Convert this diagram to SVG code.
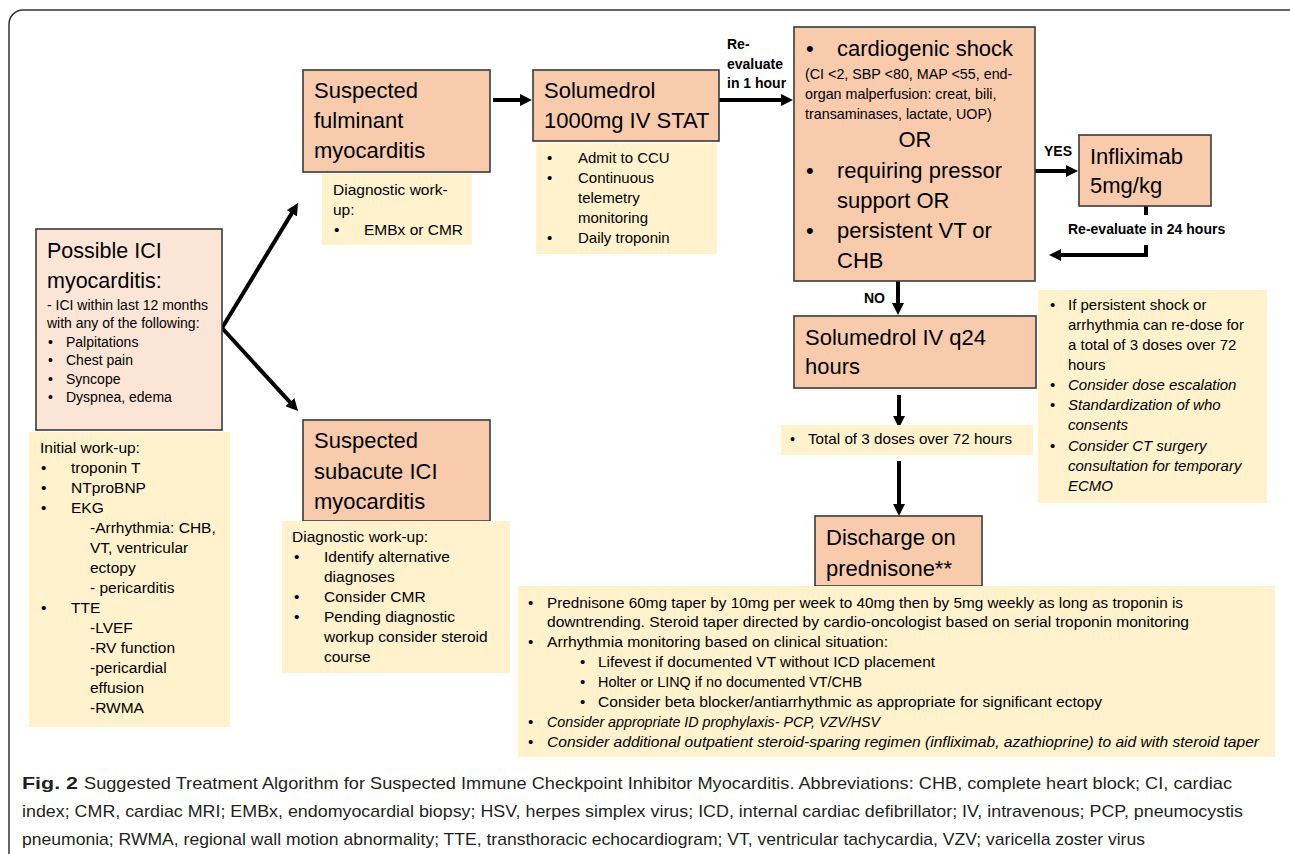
<svg xmlns="http://www.w3.org/2000/svg" width="1290" height="854" viewBox="0 0 1290 854">
<defs>
<style>
text{font-family:"Liberation Sans",Arial,sans-serif;fill:#000}
.big{font-size:22px}
.sm{font-size:15px}
.md{font-size:15.5px}
.b{font-weight:bold;font-size:14px}
.it{font-style:italic}
.box{fill:#f8cbad;stroke:#3a3a3a;stroke-width:1.6}
.box0{fill:#fbe5d6;stroke:#3a3a3a;stroke-width:1.6}
.note{fill:#fff2cc}
.conn{stroke:#000;stroke-width:4;fill:none}
.cap{font-size:17px;fill:#231f20}
</style>
<marker id="ah" viewBox="0 0 12 12" markerUnits="userSpaceOnUse" markerWidth="12" markerHeight="12" refX="1" refY="6" orient="auto">
<path d="M0,0 L12,6 L0,12 z" fill="#000"/>
</marker>
</defs>
<rect width="1290" height="854" fill="#fff"/>
<rect x="9" y="10" width="1300" height="870" rx="14" fill="none" stroke="#333" stroke-width="1.5"/>

<g id="connectors">
<line class="conn" x1="222" y1="328" x2="292.3" y2="212.4" marker-end="url(#ah)"/>
<line class="conn" x1="222" y1="328" x2="290.6" y2="402.9" marker-end="url(#ah)"/>
<line class="conn" x1="493" y1="100" x2="521" y2="100" marker-end="url(#ah)"/>
<line class="conn" x1="719" y1="100" x2="782" y2="100" marker-end="url(#ah)"/>
<line class="conn" x1="1035" y1="171" x2="1067" y2="171" marker-end="url(#ah)"/>
<line class="conn" x1="1146" y1="206" x2="1146" y2="215"/>
<polyline class="conn" points="1146,245 1146,255 1060,255" marker-end="url(#ah)"/>
<line class="conn" x1="898" y1="281" x2="898" y2="304" marker-end="url(#ah)"/>
<line class="conn" x1="899" y1="395" x2="899" y2="417" marker-end="url(#ah)"/>
<line class="conn" x1="899" y1="461" x2="899" y2="505" marker-end="url(#ah)"/>
<text class="b" x="727" y="49">Re-</text>
<text class="b" x="727" y="69">evaluate</text>
<text class="b" x="727" y="88">in 1 hour</text>
<text class="b" x="1044" y="156">YES</text>
<text class="b" x="1068" y="234">Re-evaluate in 24 hours</text>
<text class="b" x="864" y="303">NO</text>
</g>

<g id="possible">
<rect class="box0" x="36" y="229" width="186" height="201"/>
<text class="big" x="47" y="258" style="font-size:21.5px">Possible ICI</text>
<text class="big" x="47" y="288" style="font-size:21.5px">myocarditis:</text>
<text style="font-size:14px" x="47" y="310">- ICI within last 12 months</text>
<text style="font-size:14px" x="47" y="328">with any of the following:</text>
<g style="font-size:14px">
<text x="48" y="347">•</text><text x="66" y="347">Palpitations</text>
<text x="48" y="365">•</text><text x="66" y="365">Chest pain</text>
<text x="48" y="384">•</text><text x="66" y="384">Syncope</text>
<text x="48" y="402">•</text><text x="66" y="402">Dyspnea, edema</text>
</g>
</g>

<g id="initial">
<rect class="note" x="29" y="432" width="201" height="295"/>
<g class="md">
<text x="40" y="453">Initial work-up:</text>
<text x="41" y="473">•</text><text x="71" y="473">troponin T</text>
<text x="41" y="493">•</text><text x="71" y="493">NTproBNP</text>
<text x="41" y="513">•</text><text x="71" y="513">EKG</text>
<text x="90" y="533">-Arrhythmia: CHB,</text>
<text x="90" y="553">VT, ventricular</text>
<text x="90" y="573">ectopy</text>
<text x="90" y="593">- pericarditis</text>
<text x="41" y="613">•</text><text x="71" y="613">TTE</text>
<text x="90" y="633">-LVEF</text>
<text x="90" y="653">-RV function</text>
<text x="90" y="673">-pericardial</text>
<text x="90" y="693">effusion</text>
<text x="90" y="713">-RWMA</text>
</g>
</g>

<g id="fulminant">
<rect class="box" x="303" y="70" width="187" height="102"/>
<text class="big" x="314" y="98">Suspected</text>
<text class="big" x="314" y="128">fulminant</text>
<text class="big" x="314" y="158">myocarditis</text>
<rect class="note" x="322" y="174" width="150" height="71"/>
<g class="md">
<text x="333" y="195">Diagnostic work-</text>
<text x="333" y="215">up:</text>
<text x="334" y="235">•</text><text x="364" y="235">EMBx or CMR</text>
</g>
</g>

<g id="subacute">
<rect class="box" x="303" y="420" width="187" height="101"/>
<text class="big" x="314" y="448">Suspected</text>
<text class="big" x="314" y="479">subacute ICI</text>
<text class="big" x="314" y="509">myocarditis</text>
<rect class="note" x="282" y="521" width="228" height="152"/>
<g class="md">
<text x="292" y="542">Diagnostic work-up:</text>
<text x="294" y="562">•</text><text x="324" y="562">Identify alternative</text>
<text x="324" y="582">diagnoses</text>
<text x="294" y="602">•</text><text x="324" y="602">Consider CMR</text>
<text x="294" y="622">•</text><text x="324" y="622">Pending diagnostic</text>
<text x="324" y="642">workup consider steroid</text>
<text x="324" y="662">course</text>
</g>
</g>

<g id="solumedrol1000">
<rect class="box" x="533" y="70" width="186" height="71"/>
<text class="big" x="544" y="98">Solumedrol</text>
<text class="big" x="544" y="128">1000mg IV STAT</text>
<rect class="note" x="536" y="143" width="181" height="111"/>
<g class="sm">
<text x="547" y="163">•</text><text x="578" y="163">Admit to CCU</text>
<text x="547" y="183">•</text><text x="578" y="183">Continuous</text>
<text x="578" y="203">telemetry</text>
<text x="578" y="223">monitoring</text>
<text x="547" y="243">•</text><text x="578" y="243">Daily troponin</text>
</g>
</g>

<g id="cardiogenic">
<rect class="box" x="794" y="27" width="241" height="254"/>
<text class="big" x="806" y="56">•</text><text class="big" x="837" y="56">cardiogenic shock</text>
<g style="font-size:14.3px">
<text x="805" y="79">(CI &lt;2, SBP &lt;80, MAP &lt;55, end-</text>
<text x="805" y="99">organ malperfusion: creat, bili,</text>
<text x="805" y="119">transaminases, lactate, UOP)</text>
</g>
<text class="big" x="915" y="147" text-anchor="middle">OR</text>
<text class="big" x="806" y="178">•</text><text class="big" x="837" y="178">requiring pressor</text>
<text class="big" x="837" y="208">support OR</text>
<text class="big" x="806" y="238">•</text><text class="big" x="837" y="238">persistent VT or</text>
<text class="big" x="837" y="268">CHB</text>
</g>

<g id="infliximab">
<rect class="box" x="1079" y="135" width="132" height="71"/>
<text class="big" x="1090" y="164">Infliximab</text>
<text class="big" x="1090" y="193">5mg/kg</text>
</g>

<g id="rightnote">
<rect class="note" x="1038" y="290" width="229" height="213"/>
<g class="sm">
<text x="1050" y="310">•</text><text x="1068" y="310">If persistent shock or</text>
<text x="1068" y="330">arrhythmia can re-dose for</text>
<text x="1068" y="350">a total of 3 doses over 72</text>
<text x="1068" y="370">hours</text>
<text x="1050" y="390">•</text><text class="it" x="1068" y="390">Consider dose escalation</text>
<text x="1050" y="410">•</text><text class="it" x="1068" y="410">Standardization of who</text>
<text class="it" x="1068" y="430">consents</text>
<text x="1050" y="451">•</text><text class="it" x="1068" y="451">Consider CT surgery</text>
<text class="it" x="1068" y="471">consultation for temporary</text>
<text class="it" x="1068" y="491">ECMO</text>
</g>
</g>

<g id="solumedrolq24">
<rect class="box" x="794" y="316" width="242" height="72"/>
<text class="big" x="805" y="345">Solumedrol IV q24</text>
<text class="big" x="805" y="374">hours</text>
</g>

<g id="total">
<rect class="note" x="781" y="425" width="252" height="30"/>
<text style="font-size:14.5px" x="790" y="444">•</text>
<text style="font-size:14.5px" x="808" y="444" textLength="204" lengthAdjust="spacingAndGlyphs">Total of 3 doses over 72 hours</text>
</g>

<g id="discharge">
<rect class="box" x="815" y="516" width="167" height="70"/>
<text class="big" x="826" y="545">Discharge on</text>
<text class="big" x="826" y="576">prednisone**</text>
</g>

<g id="bottomnote">
<rect class="note" x="518" y="586" width="757" height="171"/>
<g class="sm">
<text x="528" y="608">•</text><text x="547" y="608" textLength="636" lengthAdjust="spacingAndGlyphs">Prednisone 60mg taper by 10mg per week to 40mg then by 5mg weekly as long as troponin is</text>
<text x="547" y="627" textLength="642" lengthAdjust="spacingAndGlyphs">downtrending. Steroid taper directed by cardio-oncologist based on serial troponin monitoring</text>
<text x="528" y="647">•</text><text x="547" y="647" textLength="341" lengthAdjust="spacingAndGlyphs">Arrhythmia monitoring based on clinical situation:</text>
<text x="580" y="667">•</text><text x="598" y="667" textLength="337" lengthAdjust="spacingAndGlyphs">Lifevest if documented VT without ICD placement</text>
<text x="580" y="687">•</text><text x="598" y="687" textLength="264" lengthAdjust="spacingAndGlyphs">Holter or LINQ if no documented VT/CHB</text>
<text x="580" y="707">•</text><text x="598" y="707" textLength="504" lengthAdjust="spacingAndGlyphs">Consider beta blocker/antiarrhythmic as appropriate for significant ectopy</text>
<text x="528" y="727">•</text><text class="it" x="547" y="727" textLength="333" lengthAdjust="spacingAndGlyphs">Consider appropriate ID prophylaxis- PCP, VZV/HSV</text>
<text x="528" y="747">•</text><text class="it" x="547" y="747" textLength="712" lengthAdjust="spacingAndGlyphs">Consider additional outpatient steroid-sparing regimen (infliximab, azathioprine) to aid with steroid taper</text>
</g>
</g>

<g id="caption">
<text class="cap" x="22" y="789" style="font-weight:bold" textLength="56" lengthAdjust="spacingAndGlyphs">Fig. 2</text>
<text class="cap" x="84" y="789" textLength="1148" lengthAdjust="spacingAndGlyphs">Suggested Treatment Algorithm for Suspected Immune Checkpoint Inhibitor Myocarditis. Abbreviations: CHB, complete heart block; CI, cardiac</text>
<text class="cap" x="22" y="817" textLength="1221" lengthAdjust="spacingAndGlyphs">index; CMR, cardiac MRI; EMBx, endomyocardial biopsy; HSV, herpes simplex virus; ICD, internal cardiac defibrillator; IV, intravenous; PCP, pneumocystis</text>
<text class="cap" x="22" y="845" textLength="1123" lengthAdjust="spacingAndGlyphs">pneumonia; RWMA, regional wall motion abnormality; TTE, transthoracic echocardiogram; VT, ventricular tachycardia, VZV; varicella zoster virus</text>
</g>
</svg>
